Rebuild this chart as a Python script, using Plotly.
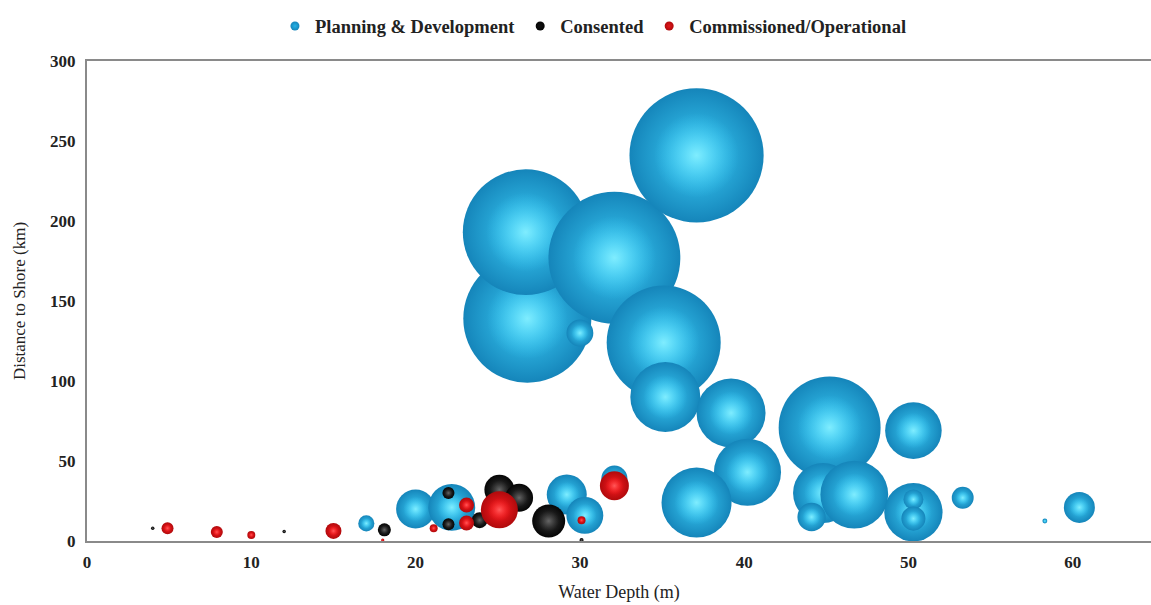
import plotly.graph_objects as go

# Offshore wind projects: water depth (m), distance to shore (km), capacity (MW)
plan_depth = [26.8, 26.7, 30.0, 32.1, 37.1, 35.1, 35.2, 39.2, 45.2, 50.3, 40.2, 37.1,
              44.8, 46.7, 44.1, 50.3, 50.3, 50.3, 53.3, 58.3, 60.4, 20.0, 22.2, 17.0,
              29.2, 30.3, 32.1]
plan_dist = [139, 193, 130, 177, 241, 124, 90, 80, 71, 69, 43, 24,
             30, 29, 15, 18, 26, 14, 27, 12.5, 21, 20, 21, 11,
             29, 16, 39]
plan_cap = [8200, 7900, 360, 8700, 9000, 6500, 2450, 2380, 5200, 1600, 2250, 2450,
            1800, 2300, 400, 1700, 200, 290, 240, 12, 480, 760, 1100, 130,
            800, 680, 340]

cons_depth = [25.1, 26.3, 28.1, 18.1, 22.0, 22.0, 23.9, 4.0, 12.0, 30.1]
cons_dist = [32, 27, 12.5, 7, 30, 10.5, 13, 8, 6, 0.6]
cons_cap = [450, 390, 545, 85, 72, 72, 128, 6, 6, 8]

oper_depth = [25.1, 23.1, 23.1, 21.1, 4.9, 7.9, 10.0, 15.0, 18.0, 32.1, 30.1]
oper_dist = [19.5, 22.5, 11.3, 8, 8, 5.6, 3.8, 6.3, 0.6, 34.5, 13]
oper_cap = [685, 112, 112, 32, 72, 72, 32, 128, 5, 420, 32]

# In plotly radial gradients, gradient.color is the centre colour and
# marker.color the outer edge.
series = [
    dict(name="Planning & Development", x=plan_depth, y=plan_dist, s=plan_cap,
         core="#3ccff8", rim="#1585ba", glow="rgba(135,240,255,0.9)",
         glow_edge="rgba(60,205,248,0)", legend="#26b3e6"),
    dict(name="Consented", x=cons_depth, y=cons_dist, s=cons_cap,
         core="#383838", rim="#050505", glow="rgba(110,110,110,0.85)",
         glow_edge="rgba(60,60,60,0)", legend="#111111"),
    dict(name="Commissioned/Operational", x=oper_depth, y=oper_dist, s=oper_cap,
         core="#ff1c22", rim="#b00a0c", glow="rgba(255,100,100,0.85)",
         glow_edge="rgba(250,30,30,0)", legend="#e3191d"),
]

SIZEREF = 1.0
fig = go.Figure()

for ser in series:
    for xi, yi, si in zip(ser["x"], ser["y"], ser["s"]):
        # shaded sphere body
        fig.add_trace(go.Scatter(
            x=[xi], y=[yi], mode="markers", showlegend=False, hoverinfo="skip",
            marker=dict(size=[si], sizemode="area", sizeref=SIZEREF, opacity=1,
                        color=ser["rim"], line=dict(width=0),
                        gradient=dict(type="radial", color=ser["core"]))))
        # specular glow
        fig.add_trace(go.Scatter(
            x=[xi], y=[yi], mode="markers", showlegend=False, hoverinfo="skip",
            marker=dict(size=[si * 0.4], sizemode="area", sizeref=SIZEREF, opacity=1,
                        color=ser["glow_edge"], line=dict(width=0),
                        gradient=dict(type="radial", color=ser["glow"]))))

# legend entries
for ser in series:
    fig.add_trace(go.Scatter(
        x=[None], y=[None], mode="markers", name=ser["name"],
        marker=dict(size=9, color=ser["rim"], opacity=1, line=dict(width=0),
                    gradient=dict(type="radial", color=ser["legend"]))))

serif = "Liberation Serif"
fig.update_layout(
    width=1151, height=605,
    margin=dict(l=87, r=0, t=61, b=64),
    paper_bgcolor="white", plot_bgcolor="white",
    font=dict(family=serif, color="#222222"),
    legend=dict(orientation="h", x=0.476, xanchor="center", y=1.072, yanchor="middle",
                font=dict(family=serif, size=18.5, color="#222222", weight="bold"),
                itemwidth=30, itemsizing="trace", bgcolor="rgba(0,0,0,0)"),
    xaxis=dict(range=[0, 64.76], tickvals=[0, 10, 20, 30, 40, 50, 60],
               showgrid=False, zeroline=False, showline=True, mirror=True,
               linecolor="#8a8a8a", linewidth=2, ticks="", ticklabelstandoff=5,
               tickfont=dict(family=serif, size=17, color="#222222", weight="bold"),
               title=dict(text="Water Depth (m)", standoff=14,
                          font=dict(family=serif, size=18, color="#222222"))),
    yaxis=dict(range=[0, 300], tickvals=[0, 50, 100, 150, 200, 250, 300],
               showgrid=False, zeroline=False, showline=True,
               linecolor="#8a8a8a", linewidth=2, ticks="", ticklabelstandoff=6,
               tickfont=dict(family=serif, size=17, color="#222222", weight="bold"),
               title=dict(text="Distance to Shore (km)", standoff=20,
                          font=dict(family=serif, size=17, color="#222222"))),
)

fig.write_html("out.html")
